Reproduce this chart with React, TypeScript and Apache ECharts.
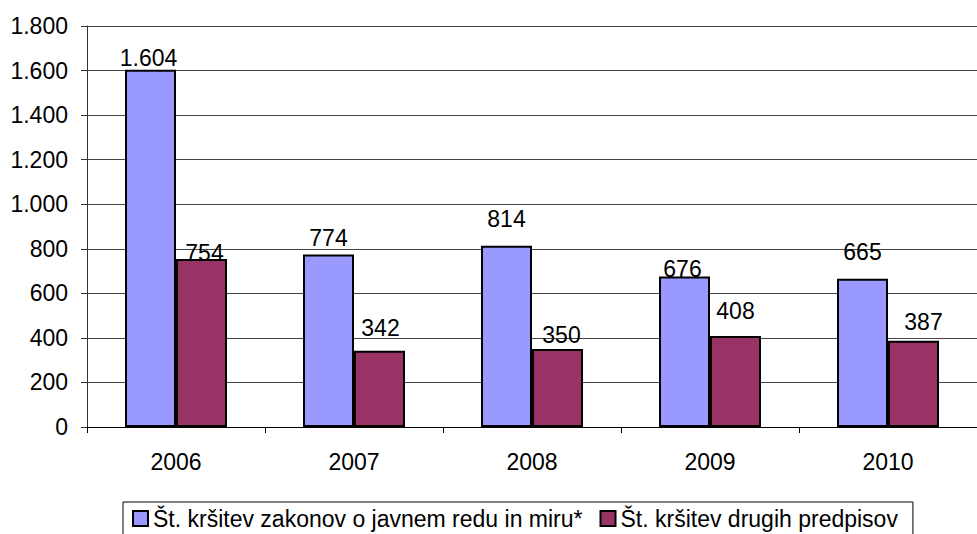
import React, { useEffect, useRef } from "react";
import * as echarts from "echarts";

const categories = ["2006", "2007", "2008", "2009", "2010"];
const seriesNames = [
  "Št. kršitev zakonov o javnem redu in miru*",
  "Št. kršitev drugih predpisov",
];
const publicOrderValues = [1604, 774, 814, 676, 665];
const otherRegValues = [754, 342, 350, 408, 387];

// label nudges (px) to mimic the hand-placed labels of the original
const publicOrderLabelDx = [-2, 0, 0, -2, 0];
const publicOrderLabelDy = [0, -5, -15, 4, -15];
const otherRegLabelDx = [3, 1, 4, 0, 10];
const otherRegLabelDy = [5, -11, -3, -13.5, -7];

const FONT = "'Liberation Sans', Arial, sans-serif";
const FS = 23;

function fmt(v: number): string {
  if (v >= 1000) {
    const th = Math.floor(v / 1000);
    const rest = String(v % 1000).padStart(3, "0");
    return `${th}.${rest}`;
  }
  return String(v);
}

export default function App() {
  const ref = useRef<HTMLDivElement>(null);
  useEffect(() => {
    if (!ref.current) return;
    const chart = echarts.init(ref.current, null, { renderer: "svg" });
    const mk = (vals: number[], dx: number[], dy: number[]) =>
      vals.map((v, i) => ({ value: v, label: { offset: [dx[i], dy[i]] } }));
    const labelCfg = {
      show: true,
      position: "top",
      distance: 0,
      color: "#000",
      fontSize: FS,
      fontFamily: FONT,
      formatter: (p: any) => fmt(p.value),
    };
    chart.setOption({
      animation: false,
      backgroundColor: "#fff",
      grid: { left: 87, right: 0, top: 26, bottom: 107, containLabel: false },
      xAxis: {
        type: "category",
        data: categories,
        axisLine: { show: true, lineStyle: { color: "#000", width: 1 } },
        axisTick: { show: true, length: 6, lineStyle: { color: "#000" } },
        axisLabel: { color: "#000", fontSize: FS, fontFamily: FONT, margin: 23 },
      },
      yAxis: {
        type: "value",
        min: 0,
        max: 1800,
        interval: 200,
        axisLine: { show: true, lineStyle: { color: "#333", width: 1 } },
        axisTick: { show: true, length: 6, lineStyle: { color: "#333" } },
        axisLabel: {
          color: "#000",
          fontSize: FS,
          fontFamily: FONT,
          margin: 19,
          formatter: (v: number) => fmt(v),
        },
        splitLine: { show: true, lineStyle: { color: "#444", width: 1 } },
      },
      legend: {
        left: 123,
        top: 502,
        orient: "horizontal",
        padding: [5, 15, 6, 9],
        itemWidth: 15,
        itemHeight: 15,
        itemGap: 17,
        borderColor: "#000",
        borderWidth: 1,
        icon: "rect",
        textStyle: { color: "#000", fontSize: FS, fontFamily: FONT },
        data: seriesNames,
      },
      series: [
        {
          name: seriesNames[0],
          type: "bar",
          barWidth: 51,
          barGap: "0%",
          itemStyle: { color: "#9999FF", borderColor: "#000", borderWidth: 2 },
          label: labelCfg,
          data: mk(publicOrderValues, publicOrderLabelDx, publicOrderLabelDy),
        },
        {
          name: seriesNames[1],
          type: "bar",
          barWidth: 51,
          barGap: "0%",
          itemStyle: { color: "#993366", borderColor: "#000", borderWidth: 2 },
          label: labelCfg,
          data: mk(otherRegValues, otherRegLabelDx, otherRegLabelDy),
        },
      ],
    });
    return () => chart.dispose();
  }, []);
  return (
    <div
      ref={ref}
      style={{ position: "absolute", left: 0, top: 0, width: 977, height: 534 }}
    />
  );
}
